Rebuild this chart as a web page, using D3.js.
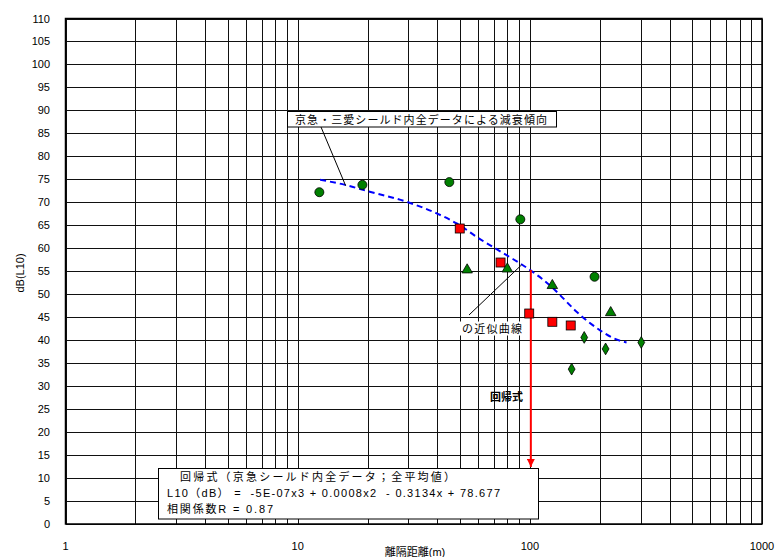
<!DOCTYPE html>
<html>
<head>
    <meta charset="utf-8">
    <style>
        html, body { margin: 0; background: #fff; }
        text { font-family: 'Liberation Sans', 'Noto Sans CJK JP', Arial, sans-serif; font-size: 11px; fill: #000; }
        .grid line { stroke: #111; stroke-width: 1; shape-rendering: crispEdges; }
    </style>
</head>
<body>
    <svg id="chart" width="777" height="557"></svg>
    <script src="https://cdn.jsdelivr.net/npm/d3@7"></script>
    <script>
        // measured points (distance m, L10 dB)
        var circleX = [12.4, 19.0, 45, 91, 190];
        var circleY = [72.2, 73.8, 74.4, 66.3, 53.8];
        var squareX = [49.9, 74.8, 99.4, 125, 150];
        var squareY = [64.3, 56.9, 45.8, 44.0, 43.2];
        var triX = [53.7, 80, 125, 223];
        var triY = [55.3, 55.5, 51.9, 46.0];
        var diamondX = [171.5, 212, 302, 151.4];
        var diamondY = [40.6, 38.1, 39.5, 33.7];
        // approximate curve
        var curveX = [12.5, 16, 19.8, 29.5, 39.7, 48.4, 61, 79.4, 100, 126, 135, 159, 200, 230, 261];
        var curveY = [74.9, 73.8, 72.5, 70.1, 67.6, 65.4, 62.0, 58.5, 55.3, 51.3, 49.8, 46.2, 42.2, 40.4, 39.5];
        var yTicks = d3.range(0, 111, 5);
        var xTickLabels = [1, 10, 100, 1000];

        var svg = d3.select("#chart");
        var x = d3.scaleLog().domain([1, 1000]).range([65.5, 762]);
        var y = d3.scaleLinear().domain([0, 110]).range([524, 18.5]);

        var xGrid = [];
        [1, 10, 100].forEach(function(d) {
            for (var i = 1; i < 10; i++) xGrid.push(d * i);
        });
        xGrid.push(1000);

        var grid = svg.append("g").attr("class", "grid");
        grid.selectAll(".v").data(xGrid).enter().append("line")
            .attr("x1", function(d) { return Math.round(x(d)) + 0.5; })
            .attr("x2", function(d) { return Math.round(x(d)) + 0.5; })
            .attr("y1", y(110)).attr("y2", y(0));
        grid.selectAll(".h").data(yTicks).enter().append("line")
            .attr("x1", x(1)).attr("x2", x(1000))
            .attr("y1", function(d) { return Math.round(y(d)) + 0.5; })
            .attr("y2", function(d) { return Math.round(y(d)) + 0.5; });

        svg.append("rect")
            .attr("x", x(1)).attr("y", y(110))
            .attr("width", x(1000) - x(1)).attr("height", y(0) - y(110))
            .attr("fill", "none").attr("stroke", "#000").attr("stroke-width", 1.5);

        // tick labels
        svg.selectAll(".ylab").data(yTicks).enter().append("text")
            .attr("x", 50).attr("y", function(d) { return y(d) + 4; })
            .attr("text-anchor", "end")
            .text(function(d) { return d; });
        svg.selectAll(".xlab").data(xTickLabels).enter().append("text")
            .attr("x", function(d) { return x(d); }).attr("y", 550)
            .attr("text-anchor", "middle")
            .text(function(d) { return d; });

        svg.append("text").attr("x", 415).attr("y", 556).attr("text-anchor", "middle").text("離隔距離(m)");
        svg.append("text").attr("transform", "translate(24,273) rotate(-90)")
            .attr("text-anchor", "middle").text("dB(L10)");

        // curve
        var line = d3.line().x(function(d) { return x(d[0]); }).y(function(d) { return y(d[1]); }).curve(d3.curveMonotoneX);
        svg.append("path")
            .datum(d3.zip(curveX, curveY))
            .attr("d", line)
            .attr("fill", "none").attr("stroke", "#0000ff").attr("stroke-width", 2)
            .attr("stroke-dasharray", "6,4");

        // red arrow
        svg.append("defs").append("marker")
            .attr("id", "arr").attr("viewBox", "0 0 10 10").attr("refX", 10).attr("refY", 5)
            .attr("markerWidth", 4).attr("markerHeight", 4).attr("orient", "auto")
            .append("path").attr("d", "M0,0L10,5L0,10z").attr("fill", "#ff0000");
        svg.append("line")
            .attr("x1", x(100) + 1).attr("x2", x(100) + 1)
            .attr("y1", y(55.3)).attr("y2", y(12.4))
            .attr("stroke", "#ff0000").attr("stroke-width", 2)
            .attr("marker-end", "url(#arr)");

        var green = "#008000";
        svg.selectAll(".c").data(d3.zip(circleX, circleY)).enter().append("circle")
            .attr("cx", function(d) { return x(d[0]); }).attr("cy", function(d) { return y(d[1]); })
            .attr("r", 4.5).attr("fill", green).attr("stroke", "#000").attr("stroke-width", 0.8);
        svg.selectAll(".s").data(d3.zip(squareX, squareY)).enter().append("rect")
            .attr("x", function(d) { return x(d[0]) - 4.5; }).attr("y", function(d) { return y(d[1]) - 4.5; })
            .attr("width", 9).attr("height", 9)
            .attr("fill", "#ff0000").attr("stroke", "#000").attr("stroke-width", 0.8);
        var tri = d3.symbol().type(d3.symbolTriangle).size(48);
        svg.selectAll(".t").data(d3.zip(triX, triY)).enter().append("path")
            .attr("d", tri)
            .attr("transform", function(d) { return "translate(" + x(d[0]) + "," + y(d[1]) + ")"; })
            .attr("fill", green).attr("stroke", "#000").attr("stroke-width", 0.8);
        var dia = d3.symbol().type(d3.symbolDiamond).size(40);
        svg.selectAll(".d").data(d3.zip(diamondX, diamondY)).enter().append("path")
            .attr("d", dia)
            .attr("transform", function(d) { return "translate(" + x(d[0]) + "," + y(d[1]) + ")"; })
            .attr("fill", green).attr("stroke", "#000").attr("stroke-width", 0.8);

        // callout 1
        svg.append("line").attr("x1", 321).attr("y1", 127)
            .attr("x2", x(16.1)).attr("y2", y(73.6))
            .attr("stroke", "#000").attr("stroke-width", 1);
        svg.append("rect").attr("x", 287.5).attr("y", 111.5).attr("width", 269).attr("height", 15.5)
            .attr("fill", "#fff").attr("stroke", "#000").attr("stroke-width", 1);
        svg.append("text").attr("x", 295).attr("y", 123.5)
            .attr("textLength", 252).attr("lengthAdjust", "spacing")
            .text("京急・三愛シールド内全データによる減衰傾向");

        // callout 2
        svg.append("line").attr("x1", 469).attr("y1", 315)
            .attr("x2", x(92.2)).attr("y2", y(56.4))
            .attr("stroke", "#000").attr("stroke-width", 1);
        svg.append("rect").attr("x", 460).attr("y", 321.5).attr("width", 63).attr("height", 14)
            .attr("fill", "#fff");
        svg.append("text").attr("x", 462).attr("y", 332.5)
            .attr("textLength", 60).attr("lengthAdjust", "spacing")
            .text("の近似曲線");

        svg.append("text").attr("x", 490).attr("y", 401).attr("font-weight", "bold")
            .text("回帰式");

        // equation box
        svg.append("rect").attr("x", 158.5).attr("y", 468.5).attr("width", 380).attr("height", 50.5)
            .attr("fill", "#fff").attr("stroke", "#000").attr("stroke-width", 1);
        svg.append("text").attr("x", 180).attr("y", 481)
            .attr("textLength", 275).attr("lengthAdjust", "spacing")
            .text("回帰式（京急シールド内全データ；全平均値）");
        svg.append("text").attr("x", 167).attr("y", 497)
            .attr("textLength", 333).attr("lengthAdjust", "spacing")
            .attr("xml:space", "preserve")
            .text("L10（dB） =  -5E-07x3 + 0.0008x2  - 0.3134x + 78.677");
        svg.append("text").attr("x", 167).attr("y", 513)
            .attr("textLength", 106).attr("lengthAdjust", "spacing")
            .text("相関係数R = 0.87");
    </script>
</body>
</html>
